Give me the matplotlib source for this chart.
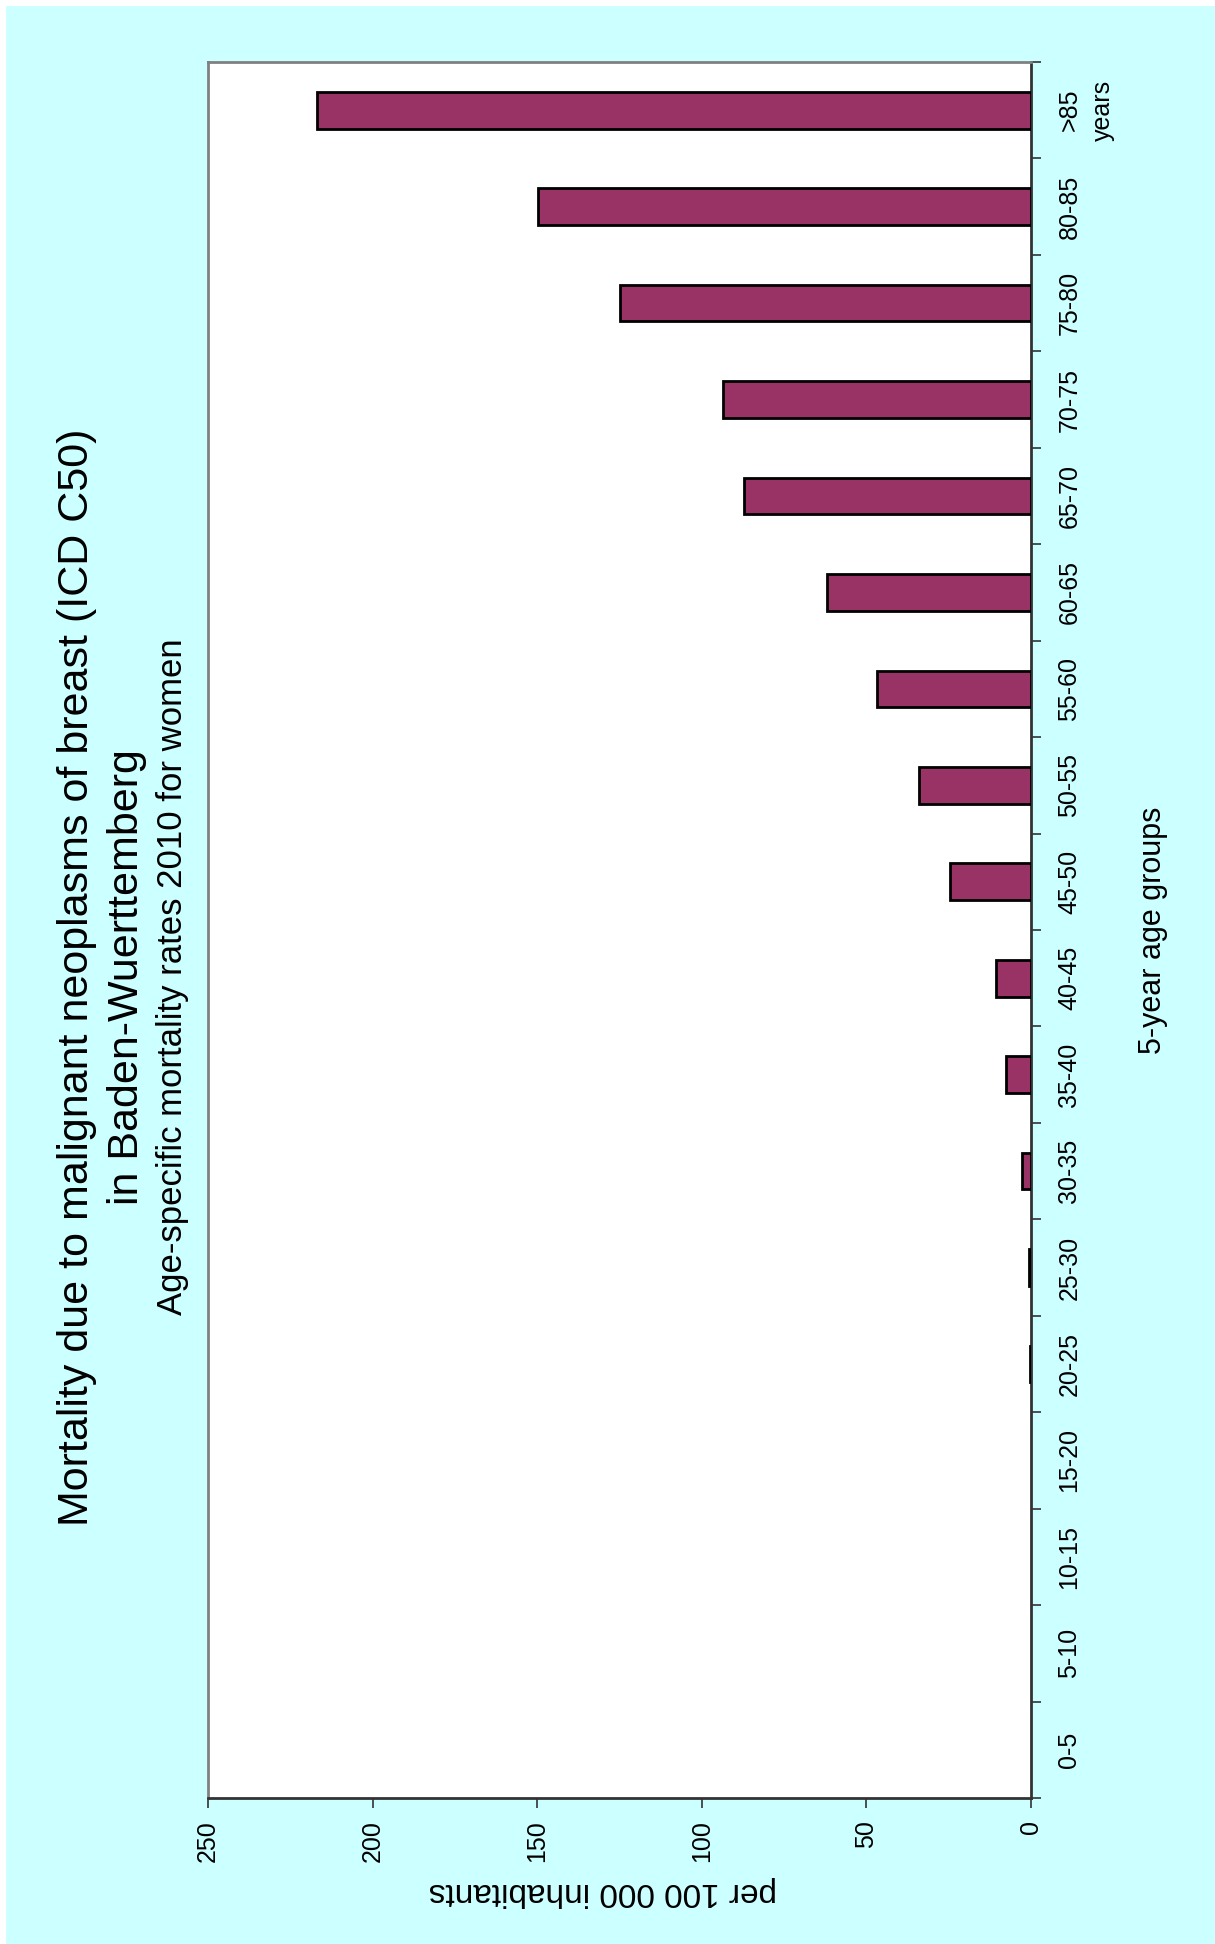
import matplotlib
matplotlib.use("Agg")
import matplotlib.pyplot as plt
import matplotlib.transforms as mtransforms
from matplotlib.patches import Rectangle

plt.rcParams["font.family"] = ["Liberation Sans", "DejaVu Sans"]

AGE_GROUPS = ["0-5", "5-10", "10-15", "15-20", "20-25", "25-30", "30-35",
              "35-40", "40-45", "45-50", "50-55", "55-60", "60-65", "65-70",
              "70-75", "75-80", "80-85", ">85"]
RATES = [0, 0, 0, 0, 0.3, 0.6, 2.7, 7.5, 10.6, 24.5, 33.9, 46.8, 61.9,
         87.1, 93.5, 124.8, 149.8, 216.8]
VALUE_TICKS = [0, 50, 100, 150, 200, 250]

TITLE = "Mortality due to malignant neoplasms of breast (ICD C50)"
SUBTITLE = "in Baden-Wuerttemberg"
NOTE = "Age-specific mortality rates 2010 for women"

W, H = 1215, 1944
fig = plt.figure(figsize=(W / 100, H / 100), dpi=100, facecolor="white")
fig.patches.append(Rectangle((6 / W, 0), 1 - 6 / W, 1 - 6 / H,
                             transform=fig.transFigure, facecolor="#ccffff",
                             edgecolor="none", zorder=-10))

ax = fig.add_axes([208 / W, 1 - 1798 / H, (1031 - 208) / W, (1798 - 62) / H])
ax.set_facecolor("white")

pos = list(range(len(AGE_GROUPS)))
# empty groups get no outline, as in the original
edge_w = [2 if r > 0 else 0 for r in RATES]
ax.barh(pos, RATES, height=0.38, color="#993366", edgecolor="black",
        linewidth=edge_w, zorder=3)

ax.set_xlim(250, 0)
ax.set_ylim(-0.5, len(AGE_GROUPS) - 0.5)

# value axis (bottom)
ax.set_xticks(VALUE_TICKS)
ax.set_xticklabels([str(v) for v in VALUE_TICKS], rotation=90,
                   fontsize=18, va="top", ha="center")
ax.tick_params(axis="x", direction="out", length=7, width=1.2,
               color="#333333", pad=9)
ax.set_xlabel("per 100 000 inhabitants", rotation=180, fontsize=24)
ax.xaxis.set_label_coords(0.48, -0.045)

# category axis (right)
ax.yaxis.tick_right()
ax.set_yticks([p - 0.5 for p in pos] + [len(pos) - 0.5])
ax.set_yticklabels([])
ax.set_yticks(pos, minor=True)
ax.set_yticklabels(AGE_GROUPS, minor=True, rotation=90, fontsize=18,
                   va="center", ha="left")
ax.tick_params(axis="y", which="major", direction="out", length=7,
               width=1.2, color="#333333")
ax.tick_params(axis="y", which="minor", length=0, pad=19)

trans = mtransforms.blended_transform_factory(ax.transAxes, ax.transData)
ax.text(1.0875, pos[-1], "years", transform=trans, rotation=90,
        fontsize=18, ha="center", va="center")
ax.text(1.148, 0.5, "5-year age groups", transform=ax.transAxes,
        rotation=90, fontsize=22, ha="center", va="center")

for side in ["left", "top"]:
    ax.spines[side].set_color("#808080")
    ax.spines[side].set_linewidth(2)
for side in ["right", "bottom"]:
    ax.spines[side].set_color("#333333")
    ax.spines[side].set_linewidth(2)

# rotated titles on the left
fig.text(77 / W, 1 - 977 / H, TITLE, rotation=90, fontsize=31,
         ha="center", va="center")
fig.text(127 / W, 1 - 977 / H, SUBTITLE, rotation=90, fontsize=31,
         ha="center", va="center")
fig.text(173 / W, 1 - 977 / H, NOTE, rotation=90, fontsize=25,
         ha="center", va="center")

fig.savefig("out.png", dpi=100, facecolor=fig.get_facecolor())
plt.close(fig)
